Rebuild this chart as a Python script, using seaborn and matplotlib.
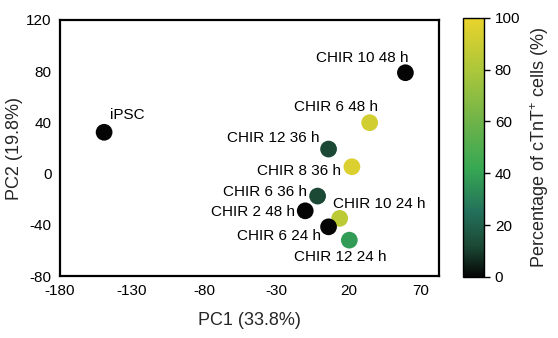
import matplotlib
matplotlib.use("Agg")
import matplotlib.pyplot as plt
import seaborn as sns
import pandas as pd
from matplotlib.colors import LinearSegmentedColormap, Normalize
from matplotlib.cm import ScalarMappable

sns.set_theme(style="white")
plt.rcParams['font.family'] = ['Liberation Sans', 'DejaVu Sans']
plt.rcParams['mathtext.default'] = 'regular'
plt.rcParams['axes.unicode_minus'] = False

# Data
samples = ["iPSC", "CHIR 10 48 h", "CHIR 6 48 h", "CHIR 12 36 h", "CHIR 8 36 h",
           "CHIR 6 36 h", "CHIR 2 48 h", "CHIR 10 24 h", "CHIR 6 24 h", "CHIR 12 24 h"]
pc1 = [-149.4, 59.6, 34.8, 6.3, 22.5, -1.3, -9.9, 14.0, 6.3, 20.7]
pc2 = [32.3, 78.8, 39.8, 19.2, 5.4, -17.5, -29.0, -34.9, -41.5, -51.9]
ctnt = [0, 0, 92, 12, 95, 12, 0, 85, 0, 38]
xticks = [-180, -130, -80, -30, 20, 70]
yticks = [-80, -40, 0, 40, 80, 120]
cbar_ticks = [0, 20, 40, 60, 80, 100]

df = pd.DataFrame({"sample": samples, "PC1": pc1, "PC2": pc2, "cTnT": ctnt})

cmap = LinearSegmentedColormap.from_list(
    "ctnt", [(0.0, "#050505"), (0.12, "#1c4a36"), (0.25, "#23705a"),
             (0.42, "#37a853"), (0.6, "#6fb349"), (0.8, "#acc73a"), (1.0, "#e9d32c")])
norm = Normalize(0, 100)

fig = plt.figure(figsize=(5.58, 3.38), dpi=100)
ax = fig.add_axes([0.1075, 0.183, 0.6795, 0.758])
cax = fig.add_axes([0.830, 0.181, 0.038, 0.766])

sns.scatterplot(data=df, x="PC1", y="PC2", hue="cTnT", palette=cmap, hue_norm=norm,
                s=145, edgecolor="none", legend=False, ax=ax, zorder=3)

# label offsets in pixels (dx, dy, ha)
offsets = {
    "iPSC": (6, 17, "left"),
    "CHIR 10 48 h": (3, 15, "right"),
    "CHIR 6 48 h": (8, 16, "right"),
    "CHIR 12 36 h": (-9, 11, "right"),
    "CHIR 8 36 h": (-11, -4, "right"),
    "CHIR 6 36 h": (-11, 4, "right"),
    "CHIR 2 48 h": (-10, -1, "right"),
    "CHIR 10 24 h": (-7, 14, "left"),
    "CHIR 6 24 h": (-8, -9, "right"),
    "CHIR 12 24 h": (-9, -17, "center"),
}
for name, x, y in zip(samples, pc1, pc2):
    dx, dy, ha = offsets[name]
    ax.annotate(name, (x, y), xytext=(dx, dy), textcoords="offset pixels",
                ha=ha, va="center", fontsize=11, color="black")

ax.set_xlim(-180, 83)
ax.set_ylim(-80, 120)
ax.set_xticks(xticks)
ax.set_yticks(yticks)
ax.set_xlabel("PC1 (33.8%)", fontsize=13, labelpad=10)
ax.set_ylabel("PC2 (19.8%)", fontsize=13, labelpad=2)
ax.tick_params(labelsize=11, length=0, pad=6, colors="black")
for sp in ax.spines.values():
    sp.set_linewidth(1.6)
    sp.set_color("black")

sm = ScalarMappable(norm=norm, cmap=cmap)
cb = fig.colorbar(sm, cax=cax, ticks=cbar_ticks)
cb.outline.set_linewidth(1.0)
cb.outline.set_edgecolor("black")
cax.tick_params(labelsize=11, length=4, width=1, direction="out", colors="black")
cb.set_label("Percentage of cTnT$^{+}$ cells (%)", fontsize=13, labelpad=6)

fig.savefig("out.png", dpi=100)
